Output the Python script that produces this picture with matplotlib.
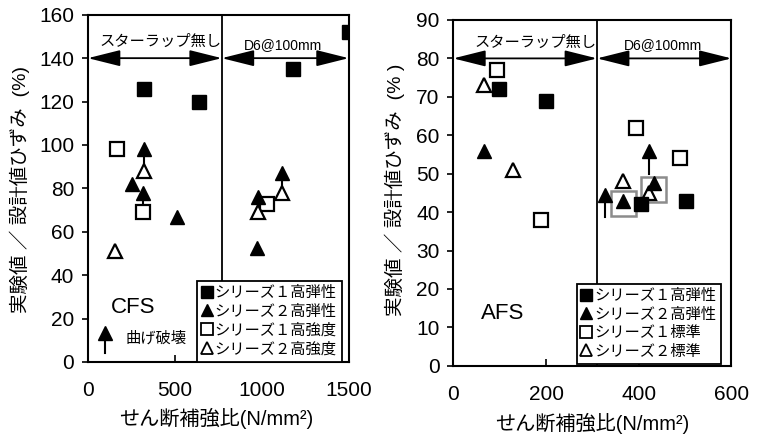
import numpy as np
import matplotlib
matplotlib.use('Agg')
from matplotlib import pyplot as plt
from matplotlib.lines import Line2D

plt.rcParams['font.family'] = ['Liberation Sans', 'Noto Sans CJK JP', 'DejaVu Sans']

# CFS (left panel)
cfs_s1_hm_x = [320, 640, 1180, 1500]
cfs_s1_hm_y = [126, 120, 135, 152]
cfs_s2_hm_x = [324, 253, 318, 512, 1115, 977, 972]
cfs_s2_hm_y = [98, 82, 78, 67, 87, 76, 52.5]
cfs_s1_hs_x = [167, 318, 1030]
cfs_s1_hs_y = [98, 69, 73]
cfs_s2_hs_x = [324, 155, 1115, 977]
cfs_s2_hs_y = [88, 51, 78, 69]
# stems of the bending-failure arrows: x, y from, y to
cfs_stem_x = [324, 318, 1115, 977]
cfs_stem_y0 = [88, 69, 78, 69]
cfs_stem_y1 = [98, 78, 87, 76]
cfs_split = 770

# AFS (right panel)
afs_s1_hm_x = [99, 199, 404, 501]
afs_s1_hm_y = [72, 69, 42, 43]
afs_s2_hm_x = [67, 365, 432, 423, 328]
afs_s2_hm_y = [56, 43, 47.5, 56, 44.5]
afs_s1_st_x = [95, 190, 395, 488]
afs_s1_st_y = [77, 38, 62, 54]
afs_s2_st_x = [67, 129, 365, 423]
afs_s2_st_y = [73, 51, 48, 45]
afs_stem_x = [423, 328]
afs_stem_y0 = [50, 38.8]
afs_stem_y1 = [56, 44.5]
afs_box_x = [365, 430]
afs_box_y = [42.5, 46]
afs_split = 310

cfs_labels = ['シリーズ１高弾性', 'シリーズ２高弾性', 'シリーズ１高強度', 'シリーズ２高強度']
afs_labels = ['シリーズ１高弾性', 'シリーズ２高弾性', 'シリーズ１標準', 'シリーズ２標準']

ms = 9.5
mew = 1.6


def draw_points(ax, sets, stems):
    sx, sy0, sy1 = stems
    for x, a, b in zip(sx, sy0, sy1):
        ax.plot([x, x], [a, b], color='black', lw=1.5, zorder=3)
    (x1, y1), (x2, y2), (x3, y3), (x4, y4) = sets
    ax.plot(x3, y3, 's', ms=ms, mfc='white', mec='black', mew=mew, ls='none', zorder=4)
    ax.plot(x4, y4, '^', ms=ms + 1, mfc='white', mec='black', mew=mew, ls='none', zorder=4)
    ax.plot(x1, y1, 's', ms=ms, color='black', ls='none', zorder=5)
    ax.plot(x2, y2, '^', ms=ms + 1, color='black', ls='none', zorder=5)


def double_arrow(ax, x0, x1, y):
    ax.annotate('', xy=(x1, y), xytext=(x0, y),
                arrowprops=dict(arrowstyle='<|-|>,head_length=2,head_width=0.5',
                                mutation_scale=10, color='black', lw=1.3,
                                shrinkA=0, shrinkB=0), zorder=2)


def style(ax, xlim, ylim, xticks, yticks, split, ylabel, ylab_pos, xlab_pos):
    ax.set_xlim(*xlim)
    ax.set_ylim(*ylim)
    ax.set_xticks(xticks)
    ax.set_yticks(yticks)
    ax.tick_params(axis='x', direction='in', length=5, width=1.2, pad=14, labelsize=15)
    ax.tick_params(axis='y', direction='out', length=4, width=1.2, pad=6, labelsize=15)
    for s in ax.spines.values():
        s.set_linewidth(1.5)
    ax.axvline(split, color='black', lw=1.3, zorder=1)
    ax.set_xlabel('せん断補強比(N/mm²)', fontsize=14.5)
    ax.set_ylabel(ylabel, fontsize=14)
    ax.yaxis.set_label_coords(*ylab_pos)
    ax.xaxis.set_label_coords(*xlab_pos)


def legend(ax, labels, anchor):
    handles = [
        Line2D([], [], marker='s', ls='none', color='black', ms=8),
        Line2D([], [], marker='^', ls='none', color='black', ms=9),
        Line2D([], [], marker='s', ls='none', mfc='white', mec='black', mew=1.3, ms=8),
        Line2D([], [], marker='^', ls='none', mfc='white', mec='black', mew=1.3, ms=9),
    ]
    leg = ax.legend(handles, labels, loc='lower right', bbox_to_anchor=anchor,
                    borderaxespad=0, fontsize=11, handlelength=0.6, handletextpad=0.2,
                    labelspacing=0.3, borderpad=0.35, fancybox=False, framealpha=1,
                    edgecolor='black')
    leg.get_frame().set_linewidth(1.3)
    leg.set_zorder(6)


fig = plt.figure(figsize=(7.58, 4.34), dpi=100)
ax1 = fig.add_axes([0.116, 0.166, 0.344, 0.80])
ax2 = fig.add_axes([0.598, 0.157, 0.367, 0.797])

# left: CFS
style(ax1, (0, 1500), (0, 160), [0, 500, 1000, 1500], np.arange(0, 161, 20), cfs_split,
      '実験値 ／ 設計値ひずみ  (%)', (-0.222, 0.496), (0.494, -0.133))
double_arrow(ax1, 0, cfs_split, 140)
double_arrow(ax1, cfs_split, 1500, 140)
ax1.text(420, 147.5, 'スターラップ無し', ha='center', va='center', fontsize=11)
ax1.text(1121, 146, 'D6@100mm', ha='center', va='center', fontsize=10)
draw_points(ax1, [(cfs_s1_hm_x, cfs_s1_hm_y), (cfs_s2_hm_x, cfs_s2_hm_y),
                  (cfs_s1_hs_x, cfs_s1_hs_y), (cfs_s2_hs_x, cfs_s2_hs_y)],
            (cfs_stem_x, cfs_stem_y0, cfs_stem_y1))
ax1.text(130, 25, 'CFS', fontsize=16, va='center')
ax1.plot([98, 98], [4, 13], color='black', lw=1.5)
ax1.plot([98], [13.5], '^', ms=10, color='black')
ax1.text(215, 11, '曲げ破壊', fontsize=11, va='center')
legend(ax1, cfs_labels, (0.973, 0.0))

# right: AFS
style(ax2, (0, 600), (0, 90), [0, 200, 400, 600], np.arange(0, 91, 10), afs_split,
      '実験値 ／ 設計値ひずみ  (% )', (-0.173, 0.51), (0.5, -0.136))
double_arrow(ax2, 0, afs_split, 80)
double_arrow(ax2, afs_split, 600, 80)
ax2.text(177, 84, 'スターラップ無し', ha='center', va='center', fontsize=11)
ax2.text(453, 83.5, 'D6@100mm', ha='center', va='center', fontsize=10)
ax2.plot(afs_box_x, afs_box_y, 's', ms=18, mfc='none', mec='#8c8c8c', mew=1.8, ls='none', zorder=3)
draw_points(ax2, [(afs_s1_hm_x, afs_s1_hm_y), (afs_s2_hm_x, afs_s2_hm_y),
                  (afs_s1_st_x, afs_s1_st_y), (afs_s2_st_x, afs_s2_st_y)],
            (afs_stem_x, afs_stem_y0, afs_stem_y1))
ax2.text(60, 13.5, 'AFS', fontsize=16, va='center')
legend(ax2, afs_labels, (0.964, 0.005))

fig.savefig('out.png', dpi=100)
